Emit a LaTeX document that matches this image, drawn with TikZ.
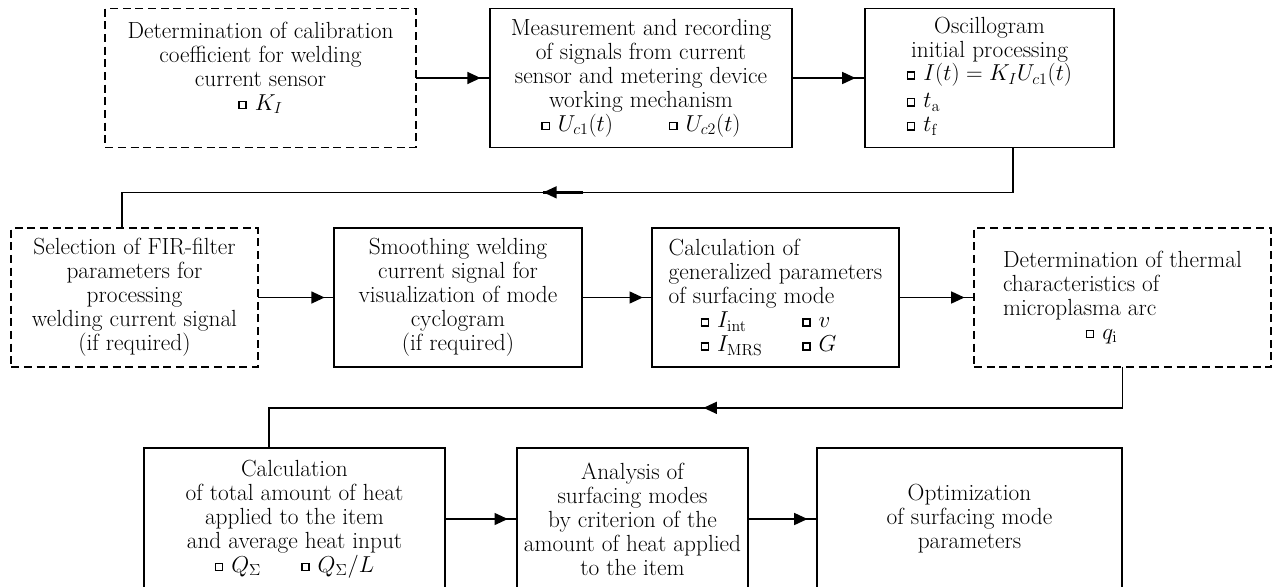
\documentclass[tikz,border=0pt]{standalone}
\usetikzlibrary{arrows.meta,decorations.markings}

\newcommand{\bx}{\raisebox{0.25ex}{\fboxsep=0pt\fboxrule=1.1pt\fbox{\rule{0pt}{4.2pt}\hspace{4.2pt}}}\hspace{6pt}}

\begin{document}
\begin{tikzpicture}[
x=0.75pt, y=-0.75pt,
block/.style={draw, line width=1.1pt, outer sep=0pt, inner sep=4pt, font=\fontsize{17.5}{18}\selectfont, minimum height=104pt},
optblock/.style={block, dash pattern=on 6pt off 3.5pt},
arrow/.style={line width=1.1pt, postaction={decorate}, decoration={markings, mark=at position -7pt with {\arrow{Triangle[length=10pt,width=9pt]}}}},
back/.style={line width=1.1pt, postaction={decorate}, decoration={markings, mark=at position #1 with {\draw[line width=2pt] (-30pt,0) -- (0pt,0); \arrow{Triangle[length=10pt,width=9pt]}}}} ]

\useasboundingbox (0,0) rectangle (1280,586);

% first row
\node[optblock, minimum width=233pt, align=center] (calib) at (260.5,78) {Determination of calibration\\coefficient for welding\\current sensor\\\bx$K_I$\\ \mbox{}};

\node[block, minimum width=226.5pt, align=center] (record) at (641,78) {Measurement and recording\\of signals from current\\sensor and metering device\\working mechanism\\\bx$U_{c1}(t)$\hspace{42pt}\bx$U_{c2}(t)$};

\node[block, minimum width=187pt, align=center] (oscil) at (989.5,78) {Oscillogram\\initial processing\\\begin{tabular}{@{}l@{}}\bx$I(t)=K_I U_{c1}(t)$\\[2pt]\bx$t_\mathrm{a}$\\\bx$t_\mathrm{f}$\end{tabular}};

% second row
\node[optblock, minimum width=185pt, align=center] (firsel) at (134.5,297.5) {Selection of FIR-filter\\parameters for\\processing\\welding current signal\\(if required)};

\node[block, minimum width=186pt, align=center] (smooth) at (458,297.5) {Smoothing welding\\current signal for\\visualization of mode\\cyclogram\\(if required)};

\node[block, minimum width=185pt, align=left] (genpar) at (775.5,297.5) {Calculation of\\generalized parameters\\of surfacing mode\\\hspace*{24pt}\makebox[76pt][l]{\bx$I_\mathrm{int}$}\bx$v$\\\hspace*{24pt}\makebox[76pt][l]{\bx$I_\mathrm{MRS}$}\bx$G$};

\node[optblock, minimum width=223pt, align=left] (thermal) at (1122.5,297.5) {Determination of thermal\\characteristics of\\microplasma arc\\\hspace*{62pt}\bx$q_\mathrm{i}$};

% third row
\node[block, minimum width=226pt, minimum height=106.5pt, align=center] (heatsum) at (294.5,519) {Calculation\\of total amount of heat\\applied to the item\\and average heat input\\\bx$Q_\Sigma$\hspace{30pt}\bx$Q_\Sigma/L$};

\node[block, minimum width=173pt, minimum height=106.5pt, align=center] (analysis) at (632.5,519) {Analysis of\\surfacing modes\\by criterion of the\\amount of heat applied\\to the item};

\node[block, minimum width=229pt, minimum height=106.5pt, align=center] (optim) at (969.5,519) {Optimization\\of surfacing mode\\parameters};

\draw[arrow] (calib) -- (record);
\draw[arrow] (record) -- (oscil);
\draw[back=386pt] ([xshift=17.6pt]oscil.south) -- ++(0,45) -| ([xshift=-9.4pt]firsel.north);
\draw[arrow] (firsel) -- (smooth);
\draw[arrow] (smooth) -- (genpar);
\draw[arrow] (genpar) -- (thermal);
\draw[back=345pt] (thermal.south) -- ++(0,41) -| ([xshift=-19.1pt]heatsum.north);
\draw[arrow] (heatsum) -- (analysis);
\draw[arrow] (analysis) -- (optim);
\end{tikzpicture}
\end{document}
